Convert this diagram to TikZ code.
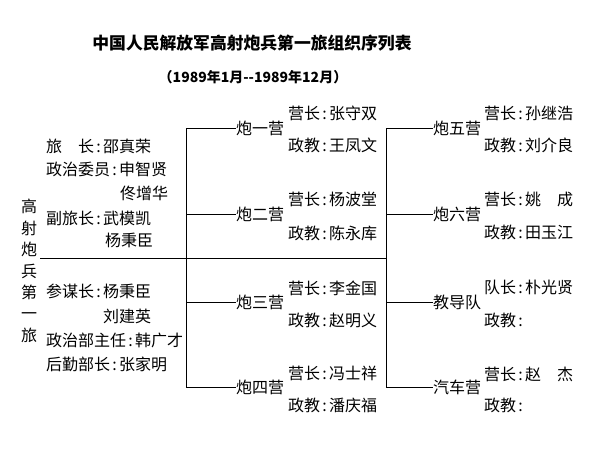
\documentclass[tikz,border=0pt]{standalone}
\usepackage{fontspec}
\newfontfamily\cjk{Noto Sans CJK SC}
\newcommand\cn{\makebox[9pt][c]{:}}
\begin{document}
\begin{tikzpicture}[x=1pt,y=-1pt,
  lbl/.style={anchor=west,inner sep=0pt,font=\cjk\fontsize{16}{16}\selectfont},
  unit/.style={lbl},
  conn/.style={draw=black,line width=0.9pt}]
\useasboundingbox (0,0) rectangle (600,451);
\fill[white] (0,0) rectangle (600,451);
% title
\node[inner sep=0pt,font=\cjk\bfseries\fontsize{16.8}{18}\selectfont] (title) at (252,43) {中国人民解放军高射炮兵第一旅组织序列表};
\node[inner sep=0pt,font=\cjk\bfseries\fontsize{14}{14}\selectfont] (sub) at (253,77) {（1989年1月--1989年12月）};
% left vertical name
\node[inner sep=0pt,align=center,font=\cjk\fontsize{16}{21.4}\selectfont] (brig) at (29,271) {高\\射\\炮\\兵\\第\\一\\旅};
% leadership
\node[lbl] (l1) at (46,146) {旅　长\cn 邵真荣};
\node[lbl] (l2) at (46,169) {政治委员\cn 申智贤};
\node[lbl] (l3) at (120,193) {佟增华};
\node[lbl] (l4) at (46,218) {副旅长\cn 武模凯};
\node[lbl] (l5) at (105,240) {杨秉臣};
\node[lbl] (l6) at (46,291) {参谋长\cn 杨秉臣};
\node[lbl] (l7) at (103,316) {刘建英};
\node[lbl] (l8) at (46,340) {政治部主任\cn 韩广才};
\node[lbl] (l9) at (46,364) {后勤部长\cn 张家明};
% bus coordinates
\coordinate (ml) at (40,258);
\coordinate (mr) at (386,258);
\coordinate (lt) at (186,128);
\coordinate (lb) at (186,387);
\coordinate (rt) at (386,128);
\coordinate (rb) at (386,387);
% units left column
\node[unit] (b1) at (236,128) {炮一营};
\node[unit] (b2) at (236,214) {炮二营};
\node[unit] (b3) at (236,302) {炮三营};
\node[unit] (b4) at (236,387) {炮四营};
% units right column
\node[unit] (b5) at (433,128) {炮五营};
\node[unit] (b6) at (433,214) {炮六营};
\node[unit] (b7) at (433,302) {教导队};
\node[unit] (b8) at (433,387) {汽车营};
% commanders left
\node[lbl] (c1a) at (288,113) {营长\cn 张守双};
\node[lbl] (c1b) at (288,145) {政教\cn 王凤文};
\node[lbl] (c2a) at (288,199) {营长\cn 杨波堂};
\node[lbl] (c2b) at (288,233) {政教\cn 陈永库};
\node[lbl] (c3a) at (288,288) {营长\cn 李金国};
\node[lbl] (c3b) at (288,320) {政教\cn 赵明义};
\node[lbl] (c4a) at (288,373) {营长\cn 冯士祥};
\node[lbl] (c4b) at (288,405) {政教\cn 潘庆福};
% commanders right
\node[lbl] (c5a) at (484,113) {营长\cn 孙继浩};
\node[lbl] (c5b) at (484,145) {政教\cn 刘介良};
\node[lbl] (c6a) at (484,199) {营长\cn 姚　成};
\node[lbl] (c6b) at (484,232) {政教\cn 田玉江};
\node[lbl] (c7a) at (484,287) {队长\cn 朴光贤};
\node[lbl] (c7b) at (484,320) {政教\cn};
\node[lbl] (c8a) at (484,374) {营长\cn 赵　杰};
\node[lbl] (c8b) at (484,405) {政教\cn};
% connectors
\draw[conn] (ml) -- (mr);
\draw[conn] (lt) -- (lb);
\draw[conn] (rt) -- (rb);
\draw[conn] (lt) -- (b1.west);
\draw[conn] (lt |- b2.west) -- (b2.west);
\draw[conn] (lt |- b3.west) -- (b3.west);
\draw[conn] (lb) -- (b4.west);
\draw[conn] (rt) -- (b5.west);
\draw[conn] (rt |- b6.west) -- (b6.west);
\draw[conn] (rt |- b7.west) -- (b7.west);
\draw[conn] (rb) -- (b8.west);
\end{tikzpicture}
\end{document}
